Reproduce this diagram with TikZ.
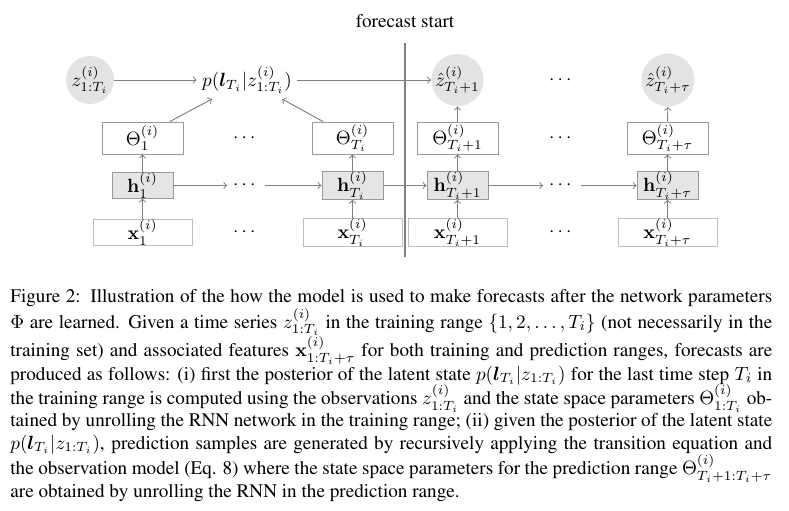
\documentclass[tikz,border=0pt]{standalone}
\usepackage{amsmath}
\usepackage{bm}
\usepackage[T1]{fontenc}
\renewcommand{\rmdefault}{ptm}
\newcommand{\pxu}{0.5217pt}
\begin{document}
\begin{tikzpicture}[x=0.5217pt,y=-0.5217pt,
  arr/.style={draw=black!50, line width=0.5pt, ->},
  thbox/.style={draw=black!40, line width=0.5pt, minimum width=81*\pxu, minimum height=32*\pxu, inner sep=0pt},
  hbx/.style={draw=black!40, fill=black!10, line width=0.5pt, minimum width=61*\pxu, minimum height=25*\pxu, inner sep=0pt},
  xbx/.style={draw=black!25, line width=0.5pt, minimum width=99*\pxu, minimum height=25*\pxu, inner sep=0pt},
  circ/.style={circle, fill=black!11, minimum size=48*\pxu, inner sep=0pt},
  dts/.style={minimum width=37*\pxu, inner sep=0pt},
  capline/.style={anchor=base west, inner sep=0pt}]
\useasboundingbox (0,0) rectangle (789,511);

% forecast start line
\node[anchor=base, inner sep=0pt] (fs) at (405,28) {forecast start};
\coordinate (vtop) at (405,43);
\coordinate (vbot) at (405,257);

% top row
\node[circ] (z) at (90,80) {$z^{(i)}_{1:T_i}$};
\node[inner sep=0pt, minimum width=100*\pxu] (p) at (247,80) {$p(\bm{l}_{T_i}|z^{(i)}_{1:T_i})$};
\node[circ] (zh1) at (457.5,80) {$\hat{z}^{(i)}_{T_i+1}$};
\node[dts] (dz) at (562,80) {$\cdots$};
\node[circ] (zh2) at (668,80) {$\hat{z}^{(i)}_{T_i+\tau}$};

% Theta row
\node[thbox] (th1) at (142.5,138) {$\Theta^{(i)}_1$};
\node[dts] (dth1) at (246,138) {$\cdots$};
\node[thbox] (th2) at (352.5,138) {$\Theta^{(i)}_{T_i}$};
\node[thbox] (th3) at (457.5,138) {$\Theta^{(i)}_{T_i+1}$};
\node[dts] (dth2) at (562,138) {$\cdots$};
\node[thbox] (th4) at (667.5,138) {$\Theta^{(i)}_{T_i+\tau}$};

% h row
\node[hbx] (h1) at (142.5,185.5) {$\mathbf{h}^{(i)}_1$};
\node[dts] (dh1) at (246,185.5) {$\cdots$};
\node[hbx] (h2) at (352.5,185.5) {$\mathbf{h}^{(i)}_{T_i}$};
\node[hbx] (h3) at (457.5,185.5) {$\mathbf{h}^{(i)}_{T_i+1}$};
\node[dts] (dh2) at (562,185.5) {$\cdots$};
\node[hbx] (h4) at (667.5,185.5) {$\mathbf{h}^{(i)}_{T_i+\tau}$};

% x row
\node[xbx] (x1) at (142.5,232.5) {$\mathbf{x}^{(i)}_1$};
\node[dts] (dx1) at (246,232.5) {$\cdots$};
\node[xbx] (x2) at (352.5,232.5) {$\mathbf{x}^{(i)}_{T_i}$};
\node[xbx] (x3) at (457.5,232.5) {$\mathbf{x}^{(i)}_{T_i+1}$};
\node[dts] (dx2) at (562,232.5) {$\cdots$};
\node[xbx] (x4) at (667.5,232.5) {$\mathbf{x}^{(i)}_{T_i+\tau}$};

% connectors
\draw[arr] (z) -- (p);
\draw[arr] (p) -- (zh1);
\draw[arr] ([xshift=27.5*\pxu]th1.north) -- ([shift={(-35,19)}]p.center);
\draw[arr] ([xshift=-29.5*\pxu]th2.north) -- ([shift={(35,19)}]p.center);
\draw[arr] (th3) -- (zh1);
\draw[arr] (th4) -- (zh2);
\foreach \i in {1,2,3,4} {
  \draw[arr] (x\i) -- (h\i);
  \draw[arr] (h\i) -- (th\i);
}
\draw[arr] (h1) -- (dh1);
\draw[arr] (dh1) -- (h2);
\draw[arr] (h2) -- (h3);
\draw[arr] (h3) -- (dh2);
\draw[arr] (dh2) -- (h4);
\draw[black!50, line width=1pt] (vtop) -- (vbot);

% caption
\node[capline] (c1) at (10,302.5) {\hbox to 397.5pt{Figure 2:\enspace Illustration of the how the model is used to make forecasts after the network parameters}};
\node[capline] (c2) at (10,328) {\hbox to 397.5pt{$\Phi$ are learned. Given a time series $z^{(i)}_{1:T_i}$ in the training range $\{1,2,\dots,T_i\}$ (not necessarily in the}};
\node[capline] (c3) at (10,356.5) {\hbox to 397.5pt{training set) and associated features $\mathbf{x}^{(i)}_{1:T_i+\tau}$ for both training and prediction ranges, forecasts are}};
\node[capline] (c4) at (10,380) {\hbox to 397.5pt{produced as follows: (i) first the posterior of the latent state $p(\bm{l}_{T_i}|z_{1:T_i})$ for the last time step $T_i$ in}};
\node[capline] (c5) at (10,404.5) {\hbox to 397.5pt{the training range is computed using the observations $z^{(i)}_{1:T_i}$ and the state space parameters $\Theta^{(i)}_{1:T_i}$ ob-}};
\node[capline] (c6) at (10,426.5) {\hbox to 397.5pt{tained by unrolling the RNN network in the training range; (ii) given the posterior of the latent state}};
\node[capline] (c7) at (10,449) {\hbox to 397.5pt{$p(\bm{l}_{T_i}|z_{1:T_i})$, prediction samples are generated by recursively applying the transition equation and}};
\node[capline] (c8) at (10,474.5) {\hbox to 397.5pt{the observation model (Eq. 8) where the state space parameters for the prediction range $\Theta^{(i)}_{T_i+1:T_i+\tau}$}};
\node[capline] (c9) at (10,497.5) {are obtained by unrolling the RNN in the prediction range.};
\end{tikzpicture}
\end{document}
